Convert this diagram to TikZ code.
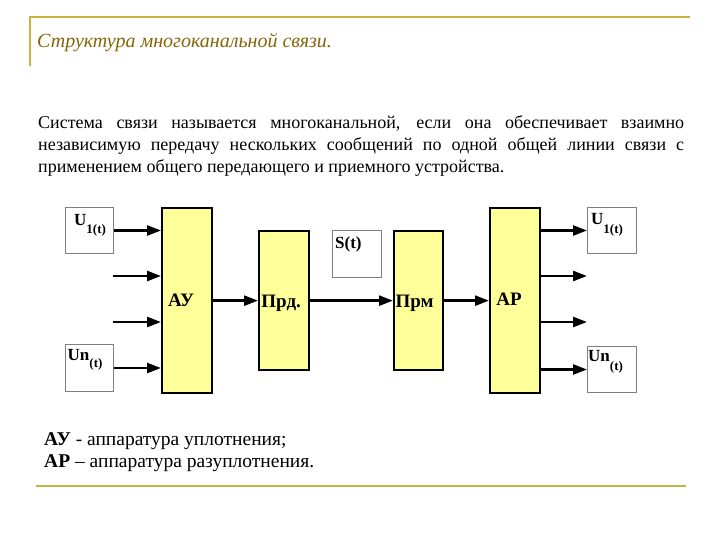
\documentclass[tikz,border=0pt]{standalone}
\usepackage{fontspec}
\setmainfont{Liberation Serif}
\usetikzlibrary{arrows.meta,calc}
\definecolor{linegold}{RGB}{201,178,66}
\definecolor{titlegold}{RGB}{134,100,10}
\definecolor{boxyellow}{RGB}{255,255,153}
\newcommand{\lowsub}[2][8pt]{\raisebox{-#1}{\fontsize{13}{13}\selectfont\bfseries #2}}
\tikzstyle{blockbox}=[draw=black,
                      line width=2.3pt,
                      fill=boxyellow,
                      anchor=north west,
                      inner sep=0pt,
                      text depth=0pt,
                      font=\fontsize{19}{19}\selectfont\bfseries]
\tikzstyle{sigbox}=[draw=black!50,
                    line width=1pt,
                    fill=white,
                    anchor=north west,
                    inner sep=0pt]
\tikzstyle{sigtext}=[anchor=north west,
                     inner ysep=1pt,
                     font=\fontsize{17}{17}\selectfont\bfseries]
\tikzstyle{sig}=[line width=2.5pt, -{Triangle[length=14pt,width=10pt]}]
\begin{document}
\begin{tikzpicture}[x=1pt,y=-1pt]
    \useasboundingbox (0,0) rectangle (720,540);
    \draw[linegold, line width=2pt] (30,66) -- (30,17) -- (690,17);
    \node[anchor=base west, inner sep=0pt, text=titlegold, font=\fontsize{20}{20}\selectfont\itshape] (title) at (37,48) {Структура многоканальной связи.};
    \node[anchor=north west, inner sep=0pt, text width=646pt, align=justify, font=\fontsize{18}{22}\selectfont] (intro) at (38,115.5) {Система связи называется многоканальной, если она обеспечивает взаимно\linebreak{} независимую передачу нескольких сообщений по одной общей линии связи с\linebreak{} применением общего передающего и приемного устройства.};
    \node[sigbox, minimum width=48pt, minimum height=46pt, label={[sigtext, inner xsep=9pt, inner ysep=7pt]north west:U\lowsub{1(t)}}] (uin1) at (65,207) {};
    \node[sigbox, minimum width=48pt, minimum height=47pt, label={[sigtext, inner xsep=2.5pt, inner ysep=5pt]north west:Un\lowsub[7pt]{(t)}}] (uinn) at (65,344) {};
    \node[blockbox, minimum width=50pt, minimum height=185pt, text depth=0pt] (au) at (161,207) {\hspace*{-12pt}АУ};
    \node[blockbox, minimum width=50pt, minimum height=139pt] (prd) at (258,230) {\raisebox{-2pt}{Прд.}\hspace*{6pt}};
    \node[sigbox, minimum width=49pt, minimum height=47pt, label={[sigtext, inner xsep=3pt, inner ysep=7pt]north west:S(t)}] (st) at (332,230) {};
    \node[blockbox, minimum width=49pt, minimum height=139pt] (prm) at (393,230) {\raisebox{-2pt}{Прм}\hspace*{8pt}};
    \node[blockbox, minimum width=50pt, minimum height=185pt] (ar) at (489,207) {\raisebox{3pt}{АР}\hspace*{12pt}};
    \node[sigbox, minimum width=49pt, minimum height=46pt, label={[sigtext, inner xsep=4pt, inner ysep=6pt]north west:U\lowsub[9pt]{1(t)}}] (uout1) at (587,207) {};
    \node[sigbox, minimum width=49pt, minimum height=46pt, label={[sigtext, inner xsep=1pt, inner ysep=4pt]north west:Un\lowsub[9pt]{(t)}}] (uoutn) at (587,346) {};
    \coordinate (in2) at (113,276);
    \coordinate (in3) at (113,322);
    \coordinate (out2) at (587,276);
    \coordinate (out3) at (587,322);
    \path[sig] (uin1.east) edge (uin1.east -| au.west)
        (in2) edge (in2 -| au.west)
        (in3) edge (in3 -| au.west)
        (uinn.east) edge (uinn.east -| au.west)
        (au.east |- prd.west) edge (prd.west)
        (prd.east) edge (prm.west)
        (prm.east) edge (prm.east -| ar.west)
        (ar.east |- uout1.west) edge (uout1.west)
        (ar.east |- out2) edge (out2)
        (ar.east |- out3) edge (out3)
        (ar.east |- uoutn.west) edge (uoutn.west);
    \node[anchor=north west, inner sep=0pt, align=left, font=\fontsize{19.5}{22}\selectfont] (legend) at (44,432) {\textbf{АУ} - аппаратура уплотнения;\\\textbf{АР} – аппаратура разуплотнения.};
    \draw[linegold, line width=2.5pt] (36,486) -- (686,486);
\end{tikzpicture}
\end{document}
